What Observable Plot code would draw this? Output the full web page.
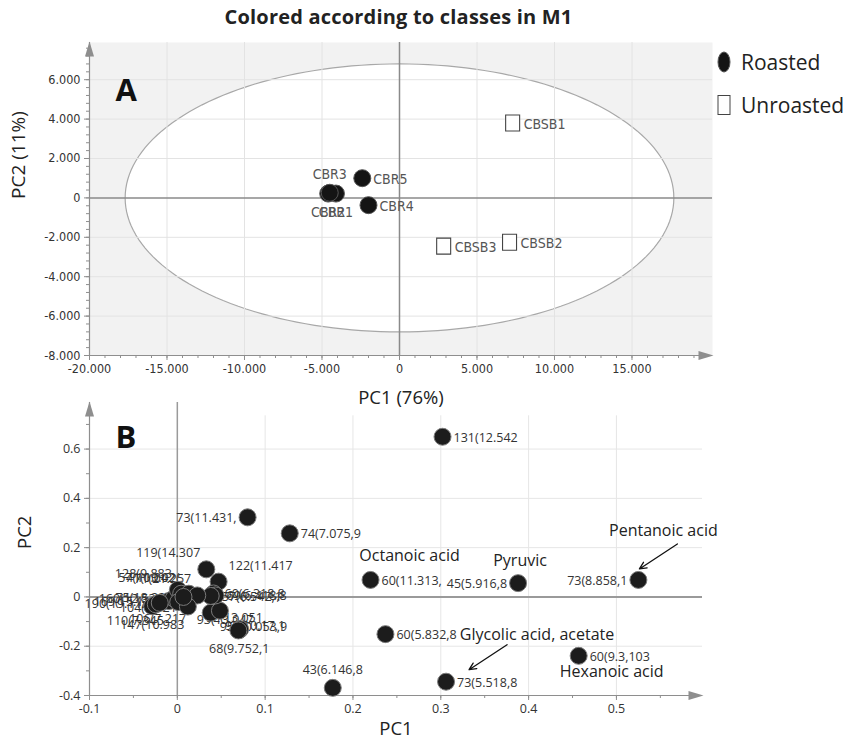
<!DOCTYPE html>
<html><head><meta charset="utf-8">
<script src="https://cdn.jsdelivr.net/npm/d3@7"></script>
<script src="https://cdn.jsdelivr.net/npm/@observablehq/plot@0.6"></script>
<style>
body{margin:0;background:#fff;}
#wrap{position:relative;width:847px;height:738px;overflow:hidden;font-family:"Open Sans",sans-serif;}
.abs{position:absolute;}
#title{left:0;width:797px;top:3px;text-align:center;font-weight:bold;font-size:20px;color:#222;z-index:5;letter-spacing:0.2px;}
#legend{left:717px;top:40px;z-index:5;font-size:21px;color:#222;}
.lg{display:flex;align-items:center;height:43px;}
.lg svg{margin-right:10px;}
</style></head><body>
<div id="wrap">
  <div id="chartA" class="abs" style="left:0;top:0"></div>
  <div id="chartB" class="abs" style="left:0;top:400px"></div>
  <div id="title" class="abs">Colored according to classes in M1</div>
  <div id="legend" class="abs"></div>
</div>
<script>
// ---------- Panel A: scores ----------
const scoreNames = ["CBR1","CBR2","CBR3","CBR4","CBR5","CBSB1","CBSB2","CBSB3"];
const scoreClasses = ["Roasted","Roasted","Roasted","Roasted","Roasted","Unroasted","Unroasted","Unroasted"];
const scorePC1 = [-4100,-4600,-4500,-2000,-2400,7300,7100,2850];
const scorePC2 = [220,220,260,-370,1000,3800,-2250,-2450];
const scoreLabelPlacement = ["below","below","above","right","right","right","right","right"];
const ellipseRadiusPC1 = 17700;
const ellipseRadiusPC2 = 6800;
const ticksAx = [-20000,-15000,-10000,-5000,0,5000,10000,15000];
const ticksAy = [-8000,-6000,-4000,-2000,0,2000,4000,6000];
const legendClasses = ["Roasted","Unroasted"];
const titleA = "PC1 (76%)", titleAy = "PC2 (11%)";

// ---------- Panel B: loadings ----------
const loadingLabels = ["131(12.542","73(11.431,","74(7.075,9","119(14.307","122(11.417","60(11.313,","45(5.916,8","73(8.858,1","60(5.832,8","60(9.3,103","73(5.518,8","43(6.146,8","68(9.752,1","96(10.17,1","95(10.053,9","93(13.047,","92(13.051,","60(6.318,8","69(6.418,8","57(6.542,1","147(10.983","110(7.345","169(15.116","160(12.538","190(19.112","128(9.883","57(10.042","41(10.02(,","71(21.257","106(7.217","104(7.621","75(18.224"];
const loadingPC1 = [0.302,0.080,0.128,0.033,0.047,0.220,0.388,0.525,0.237,0.457,0.306,0.177,0.0705,0.0715,0.0695,0.038,0.0485,0.0412,0.0435,0.038,-0.0286,-0.0245,-0.0097,-0.004,-0.020,0.0006,0.0044,0.0131,0.0227,0.0010,0.0120,0.007];
const loadingPC2 = [0.650,0.323,0.258,0.112,0.062,0.069,0.056,0.069,-0.151,-0.239,-0.344,-0.369,-0.134,-0.131,-0.136,-0.064,-0.056,0.014,0.006,0.004,-0.038,-0.030,-0.017,-0.006,-0.024,0.029,0.013,0.013,0.006,-0.021,-0.039,0.000];
const loadingLabelPlacement = ["right","left","right","aboveLeft","aboveRight","right","left","left","right","right","right","above","below","over","over","belowRight","belowRight","right","right","right","below","belowLeft","left","left","left","aboveLeft","aboveLeft","aboveLeft","aboveLeft","belowLeft","left","left"];
const annotationTexts = ["Octanoic acid","Pyruvic","Pentanoic acid","Hexanoic acid","Glycolic acid, acetate"];
const annotationTargets = ["60(11.313,","45(5.916,8","73(8.858,1","60(9.3,103","73(5.518,8"];
const ticksBx = [-0.1,0,0.1,0.2,0.3,0.4,0.5];
const ticksBy = [-0.4,-0.2,0,0.2,0.4,0.6];

// ---------- styling / layout (pixels) ----------
const annotationOffsetPx = [[39,-24],[2,-22],[25,-49],[33,16],[91,-47]];
const arrowPx = {"Pentanoic acid":[[39,-36],[1,-11]], "Glycolic acid, acetate":[[61,-37],[23,-12]]};
const axisGray = "#8e8e8e";
const narrow = "'Liberation Sans Narrow','DejaVu Sans Condensed','Arial Narrow',sans-serif";
const sans = "'Open Sans','Noto Sans',sans-serif";

const upArrow = {draw(ctx){ctx.moveTo(0,-1);ctx.lineTo(4.5,14);ctx.lineTo(-4.5,14);ctx.closePath();}};
const rightArrow = {draw(ctx){ctx.moveTo(1,0);ctx.lineTo(-14,-4.5);ctx.lineTo(-14,4.5);ctx.closePath();}};
const rectSym = {draw(ctx){ctx.rect(-7,-8,14,16);}};
const range = (a,b,s) => { const o=[]; for(let i=0; a+i*s<=b+s*1e-6; i++) o.push(+(a+i*s).toFixed(6)); return o; };

const place = {
  right:{textAnchor:"start", dx:11, dy:1},
  left:{textAnchor:"end", dx:-11, dy:1},
  above:{textAnchor:"middle", dx:0, dy:-18},
  below:{textAnchor:"middle", dx:0, dy:19},
  aboveLeft:{textAnchor:"end", dx:-6, dy:-16},
  aboveRight:{textAnchor:"start", dx:10, dy:-16},
  belowLeft:{textAnchor:"end", dx:8, dy:17},
  belowRight:{textAnchor:"start", dx:-14, dy:7},
  over:{textAnchor:"middle", dx:15, dy:-3}
};
const labelMarks = (data, opts) => Object.entries(place).map(([k,p]) =>
  Plot.text(data.filter(d => d.place === k), {x:"x", y:"y", text:"name", ...p, ...opts}));

// ---------- build A ----------
const fmtA = d3.formatLocale({decimal:",", thousands:".", grouping:[3], currency:["",""], minus:"-"}).format(",");
const scores = scoreNames.map((n,i) => ({name:n, cls:scoreClasses[i], x:scorePC1[i], y:scorePC2[i], place:scoreLabelPlacement[i]}));
const ellipse = d3.range(0, 361, 2).map(a => ({x: ellipseRadiusPC1*Math.cos(a*Math.PI/180), y: ellipseRadiusPC2*Math.sin(a*Math.PI/180)}));
const xA = [-20000, 20194], yA = [-8000, 7888];

const chartA = Plot.plot({
  width:847, height:420,
  marginLeft:89, marginRight:135, marginTop:42, marginBottom:65,
  x:{domain:xA}, y:{domain:yA},
  style:{background:"transparent", overflow:"visible", fontFamily:narrow, fontSize:"12.5px", color:"#333"},
  marks:[
    Plot.frame({fill:"#f2f2f2", stroke:"none"}),
    Plot.line(ellipse, {x:"x", y:"y", fill:"white", stroke:"#a8a8a8", strokeWidth:1.2, curve:"linear-closed"}),
    Plot.gridX(ticksAx.filter(v=>v!==-20000 && v!==0), {stroke:"#e3e3e3", strokeOpacity:1}),
    Plot.gridY(ticksAy.filter(v=>v!==-8000 && v!==0), {stroke:"#e3e3e3", strokeOpacity:1}),
    Plot.ruleX([0], {stroke:"#8a8a8a", strokeWidth:1.5}),
    Plot.ruleY([0], {stroke:"#8a8a8a", strokeWidth:1.5}),
    Plot.ruleX([xA[0]], {stroke:axisGray, strokeWidth:1.2}),
    Plot.ruleY([yA[0]], {stroke:axisGray, strokeWidth:1.2}),
    Plot.axisX(range(-20000, 19000, 1000), {tickSize:3, tickFormat:() => "", stroke:axisGray, label:null}),
    Plot.axisY(range(-8000, 7600, 400), {tickSize:3, tickFormat:() => "", stroke:axisGray, label:null}),
    Plot.axisX(ticksAx, {tickSize:5, tickPadding:4, tickFormat:fmtA, stroke:axisGray, fill:"#333", label:null, fontSize:12.5}),
    Plot.axisY(ticksAy, {tickSize:5, tickPadding:4, tickFormat:fmtA, stroke:axisGray, fill:"#333", label:null, fontSize:12.5}),
    Plot.dot([{x:xA[0], y:yA[1]}], {x:"x", y:"y", symbol:upArrow, fill:axisGray, stroke:"none"}),
    Plot.dot([{x:xA[1], y:yA[0]}], {x:"x", y:"y", symbol:rightArrow, fill:axisGray, stroke:"none"}),
    ...labelMarks(scores, {fill:"#555", fontSize:14, fontFamily:narrow}),
    Plot.dot(scores.filter(d=>d.cls==="Roasted"), {x:"x", y:"y", r:8.5, fill:"#141414", stroke:"#555", strokeWidth:1}),
    Plot.dot(scores.filter(d=>d.cls==="Unroasted"), {x:"x", y:"y", symbol:rectSym, fill:"white", stroke:"#444", strokeWidth:1.1}),
    Plot.text(["A"], {frameAnchor:"top-left", dx:26, dy:36, fontSize:31, fontWeight:"bold", fontFamily:sans, fill:"#111"}),
    Plot.text([titleA], {frameAnchor:"bottom", dy:48, fontSize:18.5, fontFamily:sans, fill:"#222"}),
    Plot.text([titleAy], {frameAnchor:"left", dx:-71, rotate:-90, fontSize:19, fontFamily:sans, fill:"#222"})
  ]
});
document.getElementById("chartA").append(chartA);

// legend
const lg = document.getElementById("legend");
legendClasses.forEach(c => {
  const row = document.createElement("div");
  row.className = "lg";
  const sym = c === "Roasted"
    ? '<svg width="14" height="22"><ellipse cx="7" cy="11" rx="6" ry="10" fill="#141414" stroke="#555"/></svg>'
    : '<svg width="14" height="22"><rect x="1" y="1.5" width="12" height="19" fill="white" stroke="#444"/></svg>';
  row.innerHTML = sym + '<span>' + c + '</span>';
  lg.append(row);
});

// ---------- build B ----------
const loadings = loadingLabels.map((n,i) => ({name:n, x:loadingPC1[i], y:loadingPC2[i], place:loadingLabelPlacement[i]}));
const xB = [-0.1, 0.598], yB = [-0.4, 0.789];
const wB = 847-89-145, hB = 338-2-43;
const kx = (xB[1]-xB[0])/wB, ky = (yB[1]-yB[0])/hB;
const annos = annotationTexts.map((t,i) => {
  const p = loadings.find(d => d.name === annotationTargets[i]);
  const [ox, oy] = annotationOffsetPx[i];
  return {text:t, x:p.x + ox*kx, y:p.y - oy*ky};
});
const arrows = annotationTexts.filter(t => arrowPx[t]).map(t => {
  const p = loadings.find(d => d.name === annotationTargets[annotationTexts.indexOf(t)]);
  const [[sx,sy],[ex,ey]] = arrowPx[t];
  return {x1:p.x+sx*kx, y1:p.y-sy*ky, x2:p.x+ex*kx, y2:p.y-ey*ky};
});
const fmtB = v => String(+v.toFixed(2));

const chartB = Plot.plot({
  width:847, height:338,
  marginLeft:89, marginRight:145, marginTop:2, marginBottom:43,
  x:{domain:xB}, y:{domain:yB},
  style:{background:"transparent", overflow:"visible", fontFamily:sans, fontSize:"12.5px", color:"#333"},
  marks:[
    Plot.ruleX(ticksBx.filter(v=>v!==-0.1 && v!==0), {x:d=>d, y1:yB[0], y2:0.735, stroke:"#e6e6e6"}),
    Plot.ruleY(ticksBy.filter(v=>v!==-0.4 && v!==0), {y:d=>d, stroke:"#e6e6e6"}),
    Plot.ruleX([0], {stroke:"#9a9a9a", strokeWidth:1.5}),
    Plot.ruleY([0], {stroke:"#9a9a9a", strokeWidth:2}),
    Plot.ruleX([xB[0]], {stroke:axisGray, strokeWidth:1.2}),
    Plot.ruleY([yB[0]], {stroke:axisGray, strokeWidth:1.2}),
    Plot.axisX(range(-0.1, 0.55, 0.05), {tickSize:3, tickFormat:() => "", stroke:axisGray, label:null}),
    Plot.axisY(range(-0.4, 0.7, 0.1), {tickSize:3, tickFormat:() => "", stroke:axisGray, label:null}),
    Plot.axisX(ticksBx, {tickSize:5, tickPadding:4, tickFormat:fmtB, stroke:axisGray, fill:"#333", label:null, fontSize:12.5}),
    Plot.axisY(ticksBy, {tickSize:5, tickPadding:4, tickFormat:fmtB, stroke:axisGray, fill:"#333", label:null, fontSize:12.5}),
    Plot.dot([{x:xB[0], y:yB[1]}], {x:"x", y:"y", symbol:upArrow, fill:axisGray, stroke:"none"}),
    Plot.dot([{x:xB[1], y:yB[0]}], {x:"x", y:"y", symbol:rightArrow, fill:axisGray, stroke:"none"}),
    ...labelMarks(loadings, {fill:"#333", fontSize:12.5}),
    Plot.dot(loadings, {x:"x", y:"y", r:8.5, fill:"#1c1c1c", stroke:"#7a7a7a", strokeWidth:1}),
    Plot.text(annos, {x:"x", y:"y", text:"text", fontSize:16, fill:"#222"}),
    Plot.arrow(arrows, {x1:"x1", y1:"y1", x2:"x2", y2:"y2", stroke:"#111", strokeWidth:1.3, headLength:9, headAngle:50}),
    Plot.text(["B"], {frameAnchor:"top-left", dx:26, dy:23, fontSize:31, fontWeight:"bold", fontFamily:sans, fill:"#111"}),
    Plot.text(["PC1"], {frameAnchor:"bottom", dy:39, fontSize:18.5, fill:"#222"}),
    Plot.text(["PC2"], {frameAnchor:"left", dx:-64, rotate:-90, fontSize:18.5, fill:"#222"})
  ]
});
document.getElementById("chartB").append(chartB);
</script>
</body></html>
